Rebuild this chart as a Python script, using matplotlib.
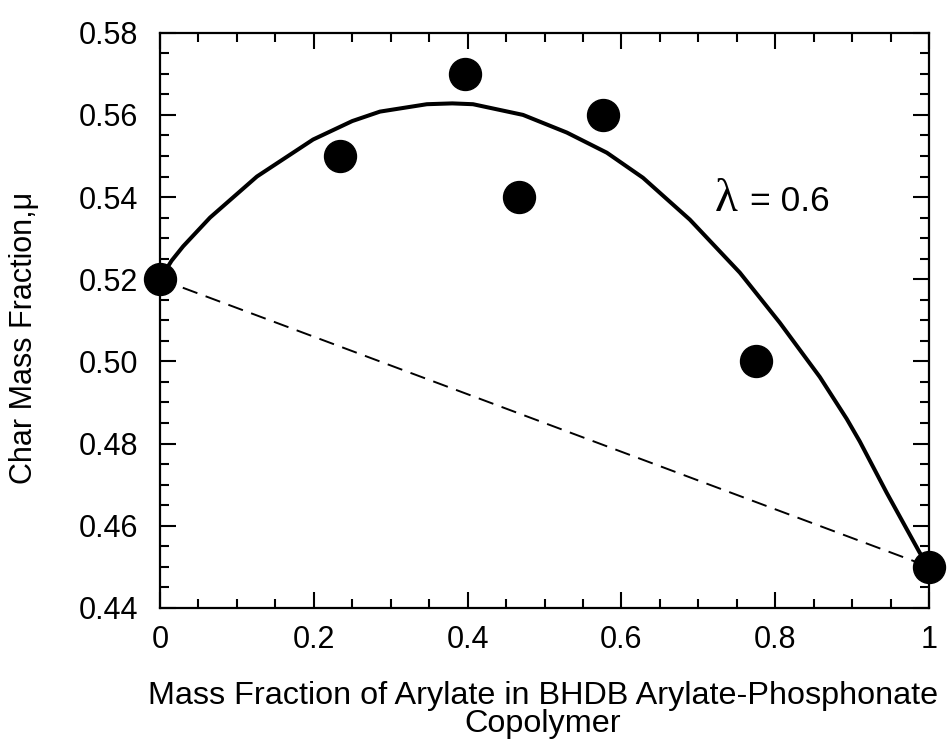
import matplotlib
matplotlib.use("Agg")
import matplotlib.pyplot as plt
from matplotlib.ticker import MultipleLocator, FixedLocator

plt.rcParams['font.family'] = ['Liberation Sans', 'DejaVu Sans']

# measured data points
x_data = [0.0, 0.234, 0.397, 0.467, 0.576, 0.775, 1.0]
y_data = [0.52, 0.55, 0.57, 0.54, 0.56, 0.50, 0.45]

# fitted curve (lambda = 0.6)
x_fit = [0.0, 0.015, 0.03, 0.065, 0.126, 0.199, 0.25, 0.286, 0.347, 0.38, 0.407, 0.472, 0.529,
         0.581, 0.628, 0.689, 0.754, 0.806, 0.858, 0.893, 0.910, 0.945, 0.988, 1.0]
y_fit = [0.52, 0.5245, 0.528, 0.535, 0.545, 0.554, 0.5585, 0.5608, 0.5626, 0.5628, 0.5626, 0.560, 0.5557,
         0.5508, 0.5447, 0.5345, 0.5216, 0.5094, 0.4962, 0.486, 0.4805, 0.468, 0.4534, 0.45]

# linear mixing line
x_lin = [0.0, 1.0]
y_lin = [0.52, 0.45]

x_ticks = [0, 0.2, 0.4, 0.6, 0.8, 1]
x_ticklabels = ['0', '0.2', '0.4', '0.6', '0.8', '1']
y_ticks = [0.44, 0.46, 0.48, 0.50, 0.52, 0.54, 0.56, 0.58]
y_ticklabels = ['0.44', '0.46', '0.48', '0.50', '0.52', '0.54', '0.56', '0.58']

fig = plt.figure(figsize=(9.47, 7.44), dpi=100)
ax = fig.add_axes([0.169, 0.183, 0.812, 0.773])

ax.plot(x_fit, y_fit, color='black', lw=2.9, solid_capstyle='round',
        solid_joinstyle='round', zorder=2)
ax.plot(x_lin, y_lin, color='black', lw=1.4, dashes=(8, 4.5), zorder=2)
ax.plot(x_data, y_data, 'o', color='black', markersize=23, clip_on=False, zorder=3)

ax.set_xlim(0, 1)
ax.set_ylim(0.44, 0.58)
ax.xaxis.set_major_locator(FixedLocator(x_ticks))
ax.set_xticklabels(x_ticklabels)
ax.yaxis.set_major_locator(FixedLocator(y_ticks))
ax.set_yticklabels(y_ticklabels)
ax.xaxis.set_minor_locator(MultipleLocator(0.05))
ax.yaxis.set_minor_locator(MultipleLocator(0.005))

ax.tick_params(which='both', direction='in', top=True, right=True, width=1.5)
ax.tick_params(which='major', length=11.5, labelsize=22)
ax.tick_params(axis='y', which='major', pad=16)
ax.tick_params(axis='x', which='major', pad=12)
ax.tick_params(which='minor', length=6.5)
for s in ax.spines.values():
    s.set_linewidth(1.6)

ax.set_xlabel('Mass Fraction of Arylate in BHDB Arylate-Phosphonate\nCopolymer',
              fontsize=23.3, linespacing=0.88)
ax.xaxis.set_label_coords(0.498, -0.128)
ax.set_ylabel('Char Mass Fraction,\u03bc', fontsize=22)
ax.yaxis.set_label_coords(-0.158, 0.47)

ax.text(0.721, 0.5365, '\u03bb', fontsize=34, family=['Liberation Serif', 'DejaVu Serif'],
        va='baseline', ha='left')
ax.text(0.767, 0.5365, '= 0.6', fontsize=25.5, va='baseline', ha='left')

fig.savefig('out.png', dpi=100)
